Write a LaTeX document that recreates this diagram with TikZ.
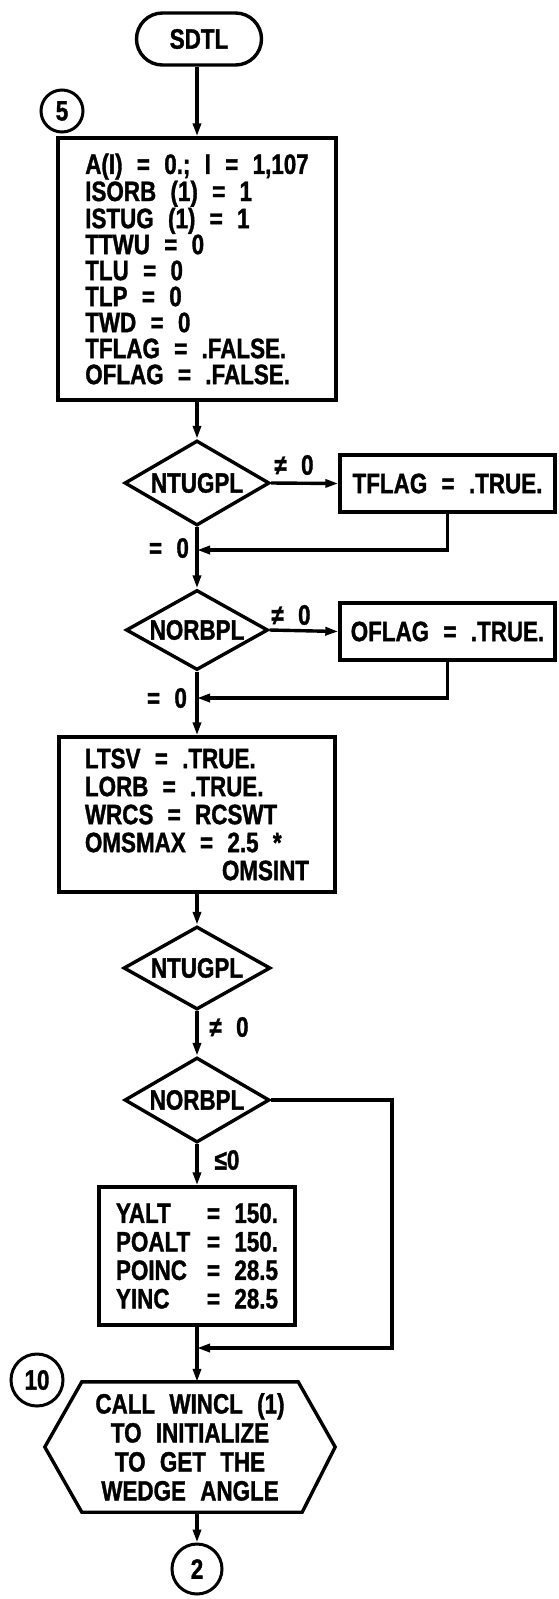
\documentclass[tikz,border=0pt]{standalone}
\usepackage{fontspec}
\newfontfamily\lett{Liberation Sans}[FakeStretch=0.8,WordSpace=2.3,BoldFeatures={FakeBold=1.2}]
\usetikzlibrary{shapes.geometric,shapes.misc,arrows.meta}
\tikzset{
  lw/.style={line width=3.4pt},
  txt/.style={font=\lett\bfseries\fontsize{28}{26}\selectfont},
  box/.style={draw, lw, rectangle, inner sep=0pt, align=left, txt},
  dia/.style={draw, lw, diamond, aspect=1.7, inner sep=0pt, txt},
  arr/.style={lw, -{Triangle[length=13pt,width=8pt]}},
  lab/.style={inner sep=0pt, txt},
  num/.style={draw, circle, line width=3pt, inner sep=0pt, font=\lett\bfseries\fontsize{28}{28}\selectfont},
}
\begin{document}
\begin{tikzpicture}[x=1pt,y=-1pt]
\useasboundingbox (0,0) rectangle (559,1599);
\fill[white] (0,0) rectangle (559,1599);

\node[draw, lw, rounded rectangle, minimum width=125pt, minimum height=52pt, inner sep=0pt,
      font=\lett\bfseries\fontsize{28}{28}\selectfont] (sdtl) at (199,39) {SDTL};
\node[num, minimum size=42pt] (c5) at (62,111) {5};

\node[box, minimum width=278pt, minimum height=262pt] (box1) at (197,269)
 {A(I) = 0.; I = 1,107\\ ISORB (1) = 1\\ ISTUG (1) = 1\\ TTWU = 0\\ TLU = 0\\ TLP = 0\\ TWD = 0\\ TFLAG = .FALSE.\\ OFLAG = .FALSE.};

\node[dia, minimum width=145pt, minimum height=85pt] (d1) at (197,483) {NTUGPL};
\node[box, minimum width=215pt, minimum height=57pt, align=center] (tflag) at (447.5,483.5) {TFLAG = .TRUE.};
\node[dia, minimum width=142pt, minimum height=80pt] (d2) at (197,630) {NORBPL};
\node[box, minimum width=215pt, minimum height=57pt, align=center] (oflag) at (447.5,631.5) {OFLAG = .TRUE.};

\node[box, minimum width=276pt, minimum height=155pt, font=\lett\bfseries\fontsize{28}{28}\selectfont] (box2) at (197,814.5)
 {LTSV = .TRUE.\\ LORB = .TRUE.\\ WRCS = RCSWT\\ OMSMAX = 2.5 *\\ \hspace*{137pt}OMSINT};

\node[dia, minimum width=147pt, minimum height=83pt] (d3) at (197,968) {NTUGPL};
\node[dia, minimum width=145pt, minimum height=85pt] (d4) at (197,1100) {NORBPL};

\node[box, minimum width=196pt, minimum height=138pt, font=\lett\bfseries\fontsize{28}{28.5}\selectfont] (box3) at (197,1256)
 {\makebox[91pt][l]{YALT}= 150.\\ \makebox[91pt][l]{POALT}= 150.\\ \makebox[91pt][l]{POINC}= 28.5\\ \makebox[91pt][l]{YINC}= 28.5};

\node[num, minimum size=52pt] (c10) at (37,1380) {10};
\node[txt, align=center, minimum width=290pt, minimum height=130pt, inner sep=0pt,
      font=\lett\bfseries\fontsize{28}{29}\selectfont] (hex) at (190,1447)
 {CALL WINCL (1)\\ TO INITIALIZE\\ TO GET THE\\ WEDGE ANGLE};
\draw[lw] ([xshift=37pt]hex.north west) -- ([xshift=-37pt]hex.north east) -- (hex.east)
  -- ([xshift=-33pt]hex.south east) -- ([xshift=37pt]hex.south west) -- (hex.west) -- cycle;
\node[num, minimum size=50pt] (c2) at (197,1569) {2};

% labels
\node[lab] (l1) at (294,465) {≠ 0};
\node[lab] (l2) at (169,548) {= 0};
\node[lab] (l3) at (291,615) {≠ 0};
\node[lab] (l4) at (167,698) {= 0};
\node[lab] (l5) at (229,1027) {≠ 0};
\node[lab] (l6) at (227,1160) {≤0};

% junctions
\coordinate (j1) at (197,550);
\coordinate (j2) at (197,698);
\coordinate (r4) at (392,1100);
\coordinate (j3) at (197,1348);

% connectors
\draw[arr] (sdtl.south -| box1.north) -- (box1.north);
\draw[arr] (box1.south) -- (d1.north);
\draw[arr] (d1.east) -- (tflag.west);
\draw[arr] (tflag.south) |- (j1);
\draw[arr] (d1.south) -- (d2.north);
\draw[arr] (d2.east) -- (oflag.west);
\draw[arr] (oflag.south) |- (j2);
\draw[arr] (d2.south) -- (box2.north);
\draw[arr] (box2.south) -- (d3.north);
\draw[arr] (d3.south) -- (d4.north);
\draw[arr] (d4.south) -- (box3.north);
\draw[arr] (d4.east) -- (r4) |- (j3);
\draw[arr] (box3.south) -- (j3 |- hex.north);
\draw[arr] (c2 |- hex.south) -- (c2.north);
\end{tikzpicture}
\end{document}
